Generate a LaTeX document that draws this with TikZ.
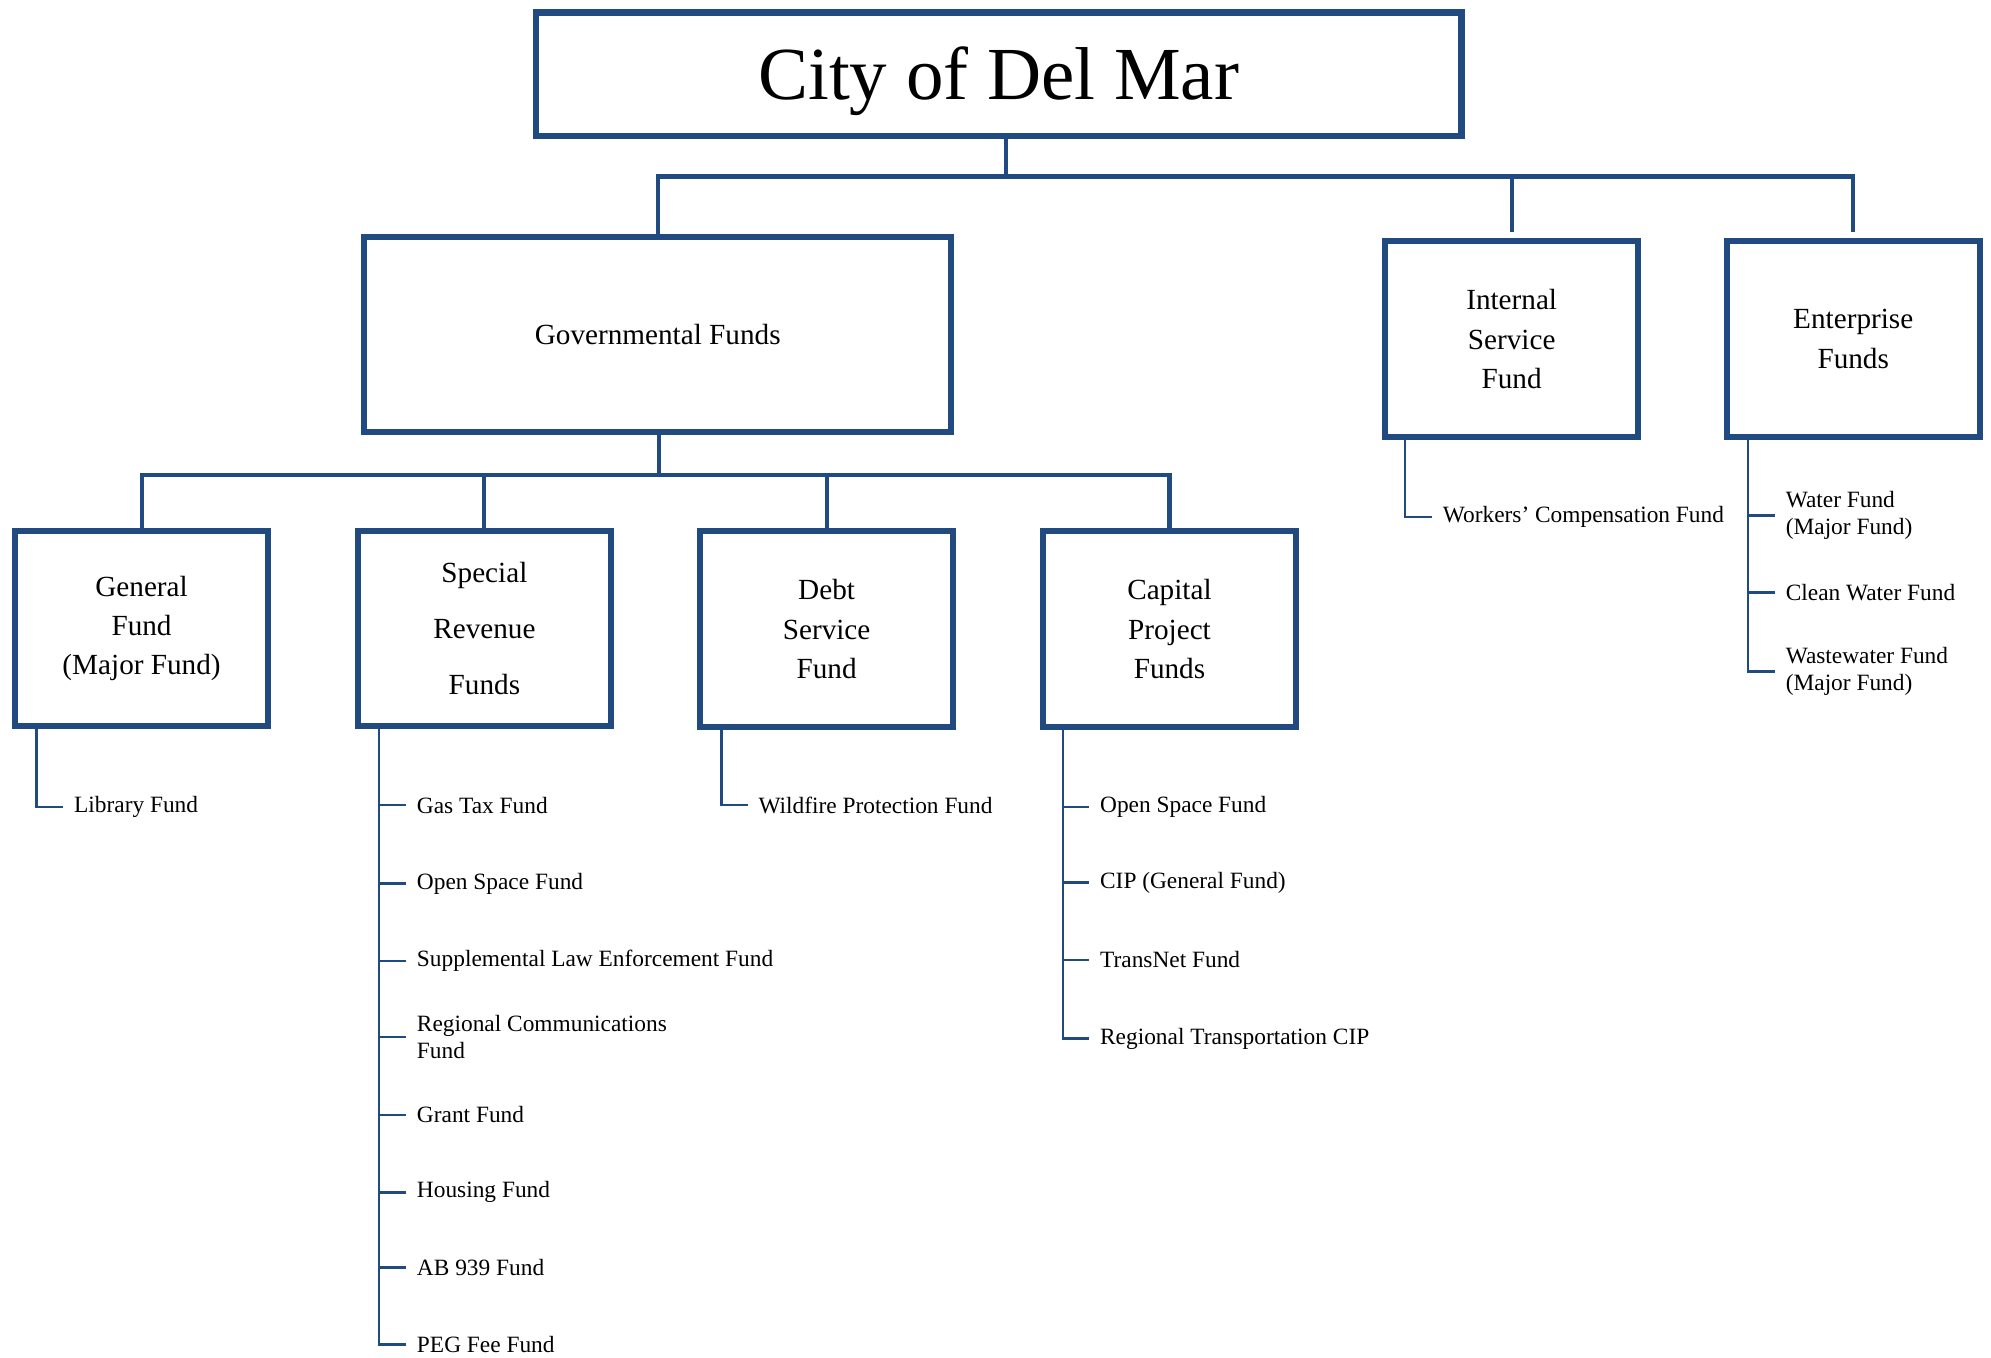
\documentclass[tikz,border=0pt]{standalone}
\usepackage{fontspec}
\setmainfont{Liberation Serif}
\usetikzlibrary{calc}
\definecolor{fundblue}{RGB}{33,75,128}

\tikzset{
  fundbox/.style={draw=fundblue, line width=2.4pt, align=center, inner sep=0pt,
    minimum width=99.5pt, minimum height=77pt, font=\fontsize{11.5}{15.5}\selectfont},
  fundleaf/.style={anchor=west, align=left, inner sep=0pt, font=\fontsize{9.2}{10.5}\selectfont},
  trunk/.style={draw=fundblue, line width=1.6pt},
  twig/.style={draw=fundblue, line width=1pt},
}

\begin{document}
\begin{tikzpicture}[x=0.5pt, y=-0.5pt]
\useasboundingbox (0, 0) rectangle (1568, 1069);

% boxes
\node [fundbox, line width=2.6pt, minimum width=364.5pt, minimum height=48.5pt, text height=23.5pt, text depth=4pt, font=\fontsize{29.5}{33}\selectfont] (title) at (786.5, 58.5) {City of Del Mar};
\node [fundbox, minimum width=231pt, minimum height=76.5pt] (gov) at (518, 263.5) {Governmental Funds};
\node [fundbox] (isf) at (1190.5, 267) {Internal\\Service\\Fund};
\node [fundbox] (ent) at (1459.5, 267) {Enterprise\\Funds};

\node [fundbox] (gen) at (111.5, 495) {General\\Fund\\(Major Fund)};
\node [fundbox, font=\fontsize{11.5}{22}\selectfont] (srf) at (381.5, 495) {Special\\Revenue\\Funds};
\node [fundbox] (dsf) at (651, 495.5) {Debt\\Service\\Fund};
\node [fundbox] (cpf) at (921, 495.5) {Capital\\Project\\Funds};

% top level
\coordinate (topbus) at (792, 139);
\draw [trunk] (title.south -| topbus) -- (topbus);
\draw [trunk] (gov.north) |- (topbus) -| ([yshift=2.5pt]ent.north);
\draw [trunk] (isf.north |- topbus) -- ([yshift=2.5pt]isf.north);

% governmental level
\coordinate (govbus) at (519, 374);
\draw [trunk] (gov.south -| govbus) -- (govbus);
\draw [trunk] (gen.north) |- (govbus) -| (cpf.north);
\draw [trunk] (srf.north) -- (srf.north |- govbus);
\draw [trunk] (dsf.north) -- (dsf.north |- govbus);

% general fund
\node [fundleaf] (lib) at (58, 635.5) {Library Fund};
\draw [twig] ($(gen.south west)+(19,0)$) |- ([xshift=-4pt]lib.west);

% special revenue
\node [fundleaf] (gas) at (328, 634) {Gas Tax Fund};
\node [fundleaf] (osf) at (328, 696) {Open Space Fund};
\node [fundleaf] (slef) at (328, 757) {Supplemental Law Enforcement Fund};
\node [fundleaf] (rcf) at (328, 816.5) {Regional Communications\\Fund};
\node [fundleaf] (grant) at (328, 878) {Grant Fund};
\node [fundleaf] (house) at (328, 939) {Housing Fund};
\node [fundleaf] (ab939) at (328, 998) {AB 939 Fund};
\node [fundleaf] (peg) at (328, 1059) {PEG Fee Fund};
\coordinate (srfspine) at ($(srf.south west)+(19,0)$);
\draw [twig] (srfspine) |- ([xshift=-4pt]peg.west);
\foreach \leaf in {gas, osf, slef, rcf, grant, house, ab939}
  \draw [twig] (srfspine |- \leaf.west) -- ([xshift=-4pt]\leaf.west);

% debt service
\node [fundleaf] (wfp) at (597, 634) {Wildfire Protection Fund};
\draw [twig] ($(dsf.south west)+(19,0)$) |- ([xshift=-4pt]wfp.west);

% capital projects
\node [fundleaf] (cpos) at (866, 635.5) {Open Space Fund};
\node [fundleaf] (cip) at (866, 695) {CIP (General Fund)};
\node [fundleaf] (transnet) at (866, 756) {TransNet Fund};
\node [fundleaf] (rtcip) at (866, 818) {Regional Transportation CIP};
\coordinate (cpfspine) at ($(cpf.south west)+(18,0)$);
\draw [twig] (cpfspine) |- ([xshift=-4pt]rtcip.west);
\foreach \leaf in {cpos, cip, transnet}
  \draw [twig] (cpfspine |- \leaf.west) -- ([xshift=-4pt]\leaf.west);

% internal service
\node [fundleaf] (wcf) at (1136, 407) {Workers’ Compensation Fund};
\draw [twig] ($(isf.south west)+(18,0)$) |- ([xshift=-4pt]wcf.west);

% enterprise
\node [fundleaf] (water) at (1406, 406) {Water Fund\\(Major Fund)};
\node [fundleaf] (cwf) at (1406, 466.5) {Clean Water Fund};
\node [fundleaf] (wwf) at (1406, 529) {Wastewater Fund\\(Major Fund)};
\coordinate (entspine) at ($(ent.south west)+(19,0)$);
\draw [twig] (entspine) |- ([xshift=-4pt]wwf.west);
\foreach \leaf in {water, cwf}
  \draw [twig] (entspine |- \leaf.west) -- ([xshift=-4pt]\leaf.west);
\end{tikzpicture}
\end{document}
